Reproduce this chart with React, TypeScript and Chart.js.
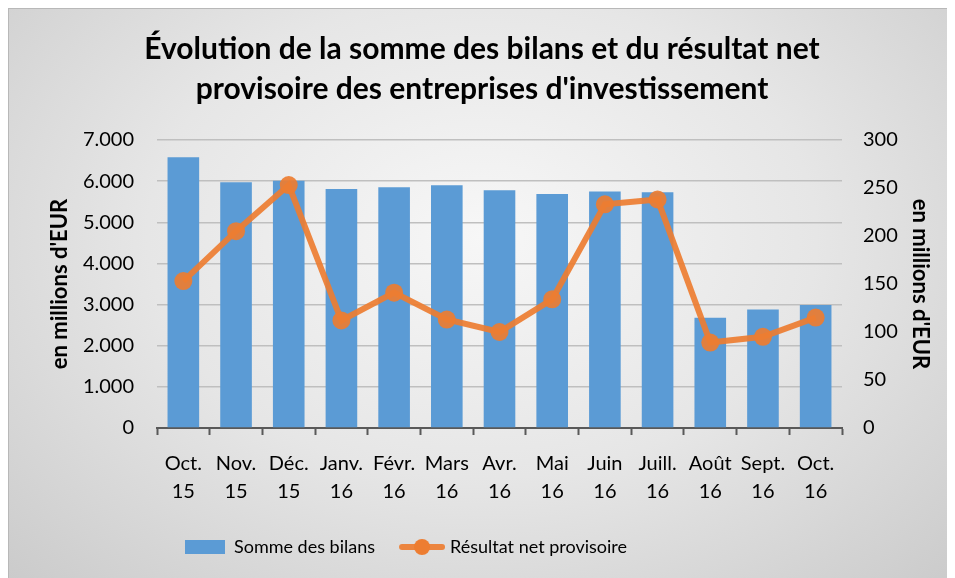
import React, { useEffect, useRef } from 'react';
import { Chart, registerables } from 'chart.js';

Chart.register(...registerables);

const categories: string[][] = [
  ['Oct.', '15'], ['Nov.', '15'], ['Déc.', '15'], ['Janv.', '16'], ['Févr.', '16'],
  ['Mars', '16'], ['Avr.', '16'], ['Mai', '16'], ['Juin', '16'], ['Juill.', '16'],
  ['Août', '16'], ['Sept.', '16'], ['Oct.', '16'],
];
const sommeDesBilans = [6580, 5970, 6010, 5810, 5850, 5900, 5780, 5690, 5750, 5730, 2680, 2880, 2990];
const resultatNet = [153, 205, 253, 112, 141, 113, 100, 134, 233, 238, 89, 95, 115];
const titleLines = ['Évolution de la somme des bilans et du résultat net', "provisoire des entreprises d'investissement"];
const axisTitle = "en millions d'EUR";
const seriesNames = ['Somme des bilans', 'Résultat net provisoire'];
const leftMax = 7000;
const leftStep = 1000;
const rightMax = 300;
const rightStep = 50;

const BLUE = '#5B9BD5';
const ORANGE = 'rgba(237,125,49,0.92)';
const FONT = 'Lato';

function fmt(v: number): string {
  return String(Math.round(v)).replace(/\B(?=(\d{3})+(?!\d))/g, '.');
}

function makeBarIcon(): HTMLCanvasElement {
  const c = document.createElement('canvas');
  c.width = 48; c.height = 14;
  const ctx = c.getContext('2d')!;
  ctx.fillStyle = BLUE;
  ctx.fillRect(4, 0, 40, 14);
  return c;
}
function makeLineIcon(): HTMLCanvasElement {
  const c = document.createElement('canvas');
  c.width = 48; c.height = 20;
  const ctx = c.getContext('2d')!;
  ctx.strokeStyle = ORANGE;
  ctx.lineWidth = 6;
  ctx.lineCap = 'round';
  ctx.beginPath();
  ctx.moveTo(5, 10); ctx.lineTo(45, 10);
  ctx.stroke();
  ctx.fillStyle = '#ED7D31';
  ctx.beginPath();
  ctx.arc(25, 10, 8, 0, Math.PI * 2);
  ctx.fill();
  return c;
}

const legendShift = {
  id: 'legendShift',
  afterLayout(chart: any) {
    const lg = chart.legend;
    if (lg) {
      lg.left -= 76;
      lg.right -= 76;
    }
  },
};

export default function App() {
  const ref = useRef<HTMLCanvasElement | null>(null);
  useEffect(() => {
    if (!ref.current) return;
    const barIcon = makeBarIcon();
    const lineIcon = makeLineIcon();
    const chart = new Chart(ref.current, {
      type: 'bar',
      plugins: [legendShift],
      data: {
        labels: categories,
        datasets: [
          {
            type: 'line',
            label: seriesNames[1],
            data: resultatNet,
            yAxisID: 'y1',
            borderColor: ORANGE,
            backgroundColor: ORANGE,
            borderWidth: 6,
            pointRadius: 9,
            pointHoverRadius: 9,
            pointBackgroundColor: ORANGE,
            pointBorderColor: ORANGE,
            pointBorderWidth: 0,
            tension: 0,
          } as any,
          {
            type: 'bar',
            label: seriesNames[0],
            data: sommeDesBilans,
            yAxisID: 'y',
            backgroundColor: BLUE,
            barPercentage: 0.6,
            categoryPercentage: 1,
          },
        ],
      },
      options: {
        responsive: false,
        animation: false,
        layout: { padding: { left: 0, right: 0, top: 0, bottom: 12 } },
        font: { family: FONT },
        plugins: {
          tooltip: { enabled: false },
          title: {
            display: true,
            text: titleLines,
            color: '#000',
            font: { family: FONT, size: 30, weight: 'bold', lineHeight: 1.333 },
            padding: { top: 20, bottom: 31 },
          },
          legend: {
            display: true,
            position: 'bottom',
            labels: {
              usePointStyle: true,
              pointStyleWidth: 40,
              padding: 26,
              color: '#000',
              font: { family: FONT, size: 18 },
              generateLabels: () => [
                { text: seriesNames[0], pointStyle: barIcon, fillStyle: BLUE, strokeStyle: BLUE, lineWidth: 0, datasetIndex: 1, hidden: false, fontColor: '#000' } as any,
                { text: seriesNames[1], pointStyle: lineIcon, fillStyle: ORANGE, strokeStyle: ORANGE, lineWidth: 0, datasetIndex: 0, hidden: false, fontColor: '#000' } as any,
              ],
            },
          },
        },
        scales: {
          x: {
            offset: true,
            grid: {
              offset: true,
              drawOnChartArea: false,
              drawTicks: true,
              tickLength: 7,
              tickWidth: 2,
              tickColor: '#595959',
            },
            border: { display: true, color: '#595959', width: 2 },
            ticks: {
              color: '#000',
              font: { family: FONT, size: 20, lineHeight: 1.4 },
              padding: 15,
              maxRotation: 0,
              autoSkip: false,
            },
            afterFit: (s: any) => { s.height -= 9; },
          },
          y: {
            position: 'left',
            min: 0,
            max: leftMax,
            grid: { color: '#bfbfbf', lineWidth: 1.5, drawTicks: false },
            border: { display: false },
            ticks: {
              stepSize: leftStep,
              color: '#000',
              padding: 23,
              font: { family: FONT, size: 20 },
              callback: (v: any) => fmt(Number(v)),
            },
            title: {
              display: true,
              text: axisTitle,
              color: '#000',
              font: { family: FONT, size: 22, weight: 'bold', lineHeight: 1.2 },
              padding: { top: 38, bottom: 0 },
            },
            afterFit: (s: any) => { s.width = 148; },
          },
          y1: {
            position: 'right',
            min: 0,
            max: rightMax,
            grid: { drawOnChartArea: false, drawTicks: false },
            border: { display: false },
            ticks: {
              stepSize: rightStep,
              color: '#000',
              padding: 21,
              font: { family: FONT, size: 20 },
            },
            title: {
              display: true,
              text: axisTitle,
              color: '#000',
              font: { family: FONT, size: 22, weight: 'bold', lineHeight: 1.2 },
              padding: { top: 22, bottom: 0 },
            },
            afterFit: (s: any) => { s.width = 113; },
          },
        },
      } as any,
    });
    return () => chart.destroy();
  }, []);

  return (
    <div
      style={{
        position: 'relative',
        width: 946,
        height: 569,
        borderTop: '1px solid #b8b8b8',
        borderLeft: '1px solid #b8b8b8',
        background: 'radial-gradient(ellipse at 50% 40%, #f7f7f7 0%, #e6e6e6 50%, #cbcbcb 100%)',
        overflow: 'hidden',
      }}
    >
      <canvas ref={ref} width={946} height={569} style={{ display: 'block' }} />
    </div>
  );
}
